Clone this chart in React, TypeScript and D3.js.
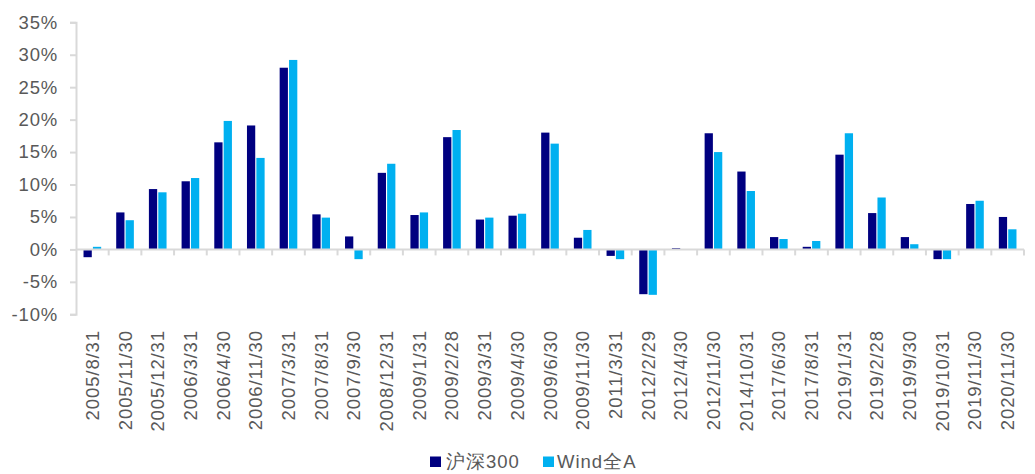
import * as React from 'react';
import * as d3 from 'd3';
import { useRef, useEffect } from 'react';

const categories = [
  '2005/8/31', '2005/11/30', '2005/12/31', '2006/3/31', '2006/4/30', '2006/11/30',
  '2007/3/31', '2007/8/31', '2007/9/30', '2008/12/31', '2009/1/31', '2009/2/28',
  '2009/3/31', '2009/4/30', '2009/6/30', '2009/11/30', '2011/3/31', '2012/2/29',
  '2012/4/30', '2012/11/30', '2014/10/31', '2017/6/30', '2017/8/31', '2019/1/31',
  '2019/2/28', '2019/9/30', '2019/10/31', '2019/11/30', '2020/11/30',
];

const seriesNames = ['沪深300', 'Wind全A'];
const seriesColors = ['#000080', '#00B0F0'];

// 单位：%
const hs300 = [
  -1.2, 5.7, 9.3, 10.5, 16.5, 19.1, 28.0, 5.4, 2.0, 11.8, 5.3, 17.3, 4.6, 5.2, 18.0,
  1.8, -1.0, -6.9, 0.2, 17.9, 12.0, 1.9, 0.4, 14.6, 5.6, 1.9, -1.5, 7.0, 5.0,
];
const windA = [
  0.4, 4.5, 8.8, 11.0, 19.8, 14.1, 29.2, 4.9, -1.5, 13.2, 5.7, 18.4, 4.9, 5.5, 16.3,
  3.0, -1.5, -7.0, 0.05, 15.0, 9.0, 1.6, 1.3, 17.9, 8.0, 0.8, -1.5, 7.5, 3.1,
];

const yTicks = [-10, -5, 0, 5, 10, 15, 20, 25, 30, 35];

const width = 1035;
const height = 474;
const left = 76;
const right = 1024;
const top = 22.3;
const bottom = 314.3;
const textColor = '#595959';
const axisColor = '#D9D9D9';
const font = '"Liberation Sans", Arial, Helvetica, sans-serif';

const App: React.FC = () => {
  const gx = useRef<SVGGElement>(null);
  const gy = useRef<SVGGElement>(null);

  const x = d3.scaleBand<string>().domain(categories).range([left, right]).paddingInner(0.46).paddingOuter(0.23);
  const xSlot = d3.scaleBand<string>().domain(categories).range([left, right]);
  const inner = d3.scaleBand<string>().domain(seriesNames).range([0, x.bandwidth()]).paddingInner(0.12);
  const y = d3.scaleLinear().domain([-10, 35]).range([bottom, top]);

  const series = [hs300, windA];

  useEffect(() => {
    if (gy.current) {
      const g = d3.select(gy.current);
      g.selectAll('*').remove();
      g.call(
        d3.axisLeft(y).tickValues(yTicks).tickSize(6).tickPadding(12).tickFormat((d) => `${d}%`)
      );
      g.select('.domain').attr('stroke', axisColor).attr('stroke-width', 2);
      g.selectAll('.tick line').attr('stroke', axisColor).attr('stroke-width', 2);
      g.selectAll('.tick text')
        .attr('fill', textColor)
        .attr('font-size', 18.5)
        .attr('letter-spacing', 0.8)
        .attr('font-family', font);
    }
  }, []);

  useEffect(() => {
    if (gx.current) {
      const g = d3.select(gx.current);
      g.selectAll('*').remove();
      // 零轴线
      g.append('line')
        .attr('x1', left).attr('x2', right)
        .attr('y1', 0).attr('y2', 0)
        .attr('stroke', axisColor).attr('stroke-width', 2);
      // 分类分隔刻度
      const bounds = categories.map((c) => (xSlot(c) || 0) + xSlot.bandwidth());
      g.selectAll('line.sep')
        .data(bounds)
        .join('line')
        .attr('class', 'sep')
        .attr('x1', (d) => d).attr('x2', (d) => d)
        .attr('y1', 0).attr('y2', 6)
        .attr('stroke', axisColor).attr('stroke-width', 2);
    }
  }, []);

  return (
    <svg width={width} height={height} style={{ position: 'absolute', left: 0, top: 0, background: '#fff' }}>
      <rect width={width} height={height} fill="#fff" />
      <g ref={gy} transform={`translate(${left},0)`} />
      {series.map((vals, si) => (
        <g key={si} fill={seriesColors[si]}>
          {vals.map((v, i) => {
            const bx = (x(categories[i]) || 0) + (inner(seriesNames[si]) || 0);
            const y0 = y(0);
            const yv = y(v);
            return (
              <rect
                key={i}
                x={bx}
                y={Math.min(y0, yv)}
                width={inner.bandwidth()}
                height={Math.max(Math.abs(yv - y0), 0.8)}
              />
            );
          })}
        </g>
      ))}
      <g ref={gx} transform={`translate(0,${y(0)})`} />
      <g fill={textColor} fontSize={18.5} fontFamily={font} letterSpacing={0.9}>
        {categories.map((c) => (
          <text
            key={c}
            transform={`translate(${(xSlot(c) || 0) + xSlot.bandwidth() / 2 + 6.5},330) rotate(-90)`}
            textAnchor="end"
          >
            {c}
          </text>
        ))}
      </g>
      <g fontFamily={font} fontSize={18.5} fill={textColor} letterSpacing={1}>
        <rect x={430} y={456.5} width={11} height={10.5} fill={seriesColors[0]} />
        <text x={446} y={468}>{seriesNames[0]}</text>
        <rect x={543} y={456.5} width={11} height={10.5} fill={seriesColors[1]} />
        <text x={557} y={468}>{seriesNames[1]}</text>
      </g>
    </svg>
  );
};

export default App;
